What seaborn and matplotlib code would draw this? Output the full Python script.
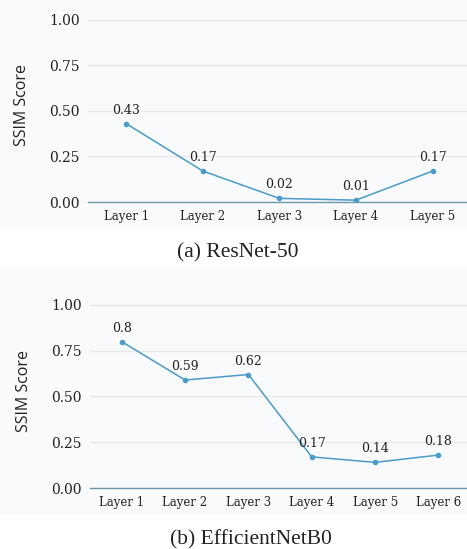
import matplotlib
matplotlib.use("Agg")
import matplotlib.pyplot as plt
import seaborn as sns
import pandas as pd
from matplotlib.patches import Rectangle

resnet_layers = ["Layer 1", "Layer 2", "Layer 3", "Layer 4", "Layer 5"]
resnet_ssim = [0.43, 0.17, 0.02, 0.01, 0.17]

effnet_layers = ["Layer 1", "Layer 2", "Layer 3", "Layer 4", "Layer 5", "Layer 6"]
effnet_ssim = [0.8, 0.59, 0.62, 0.17, 0.14, 0.18]

y_ticks = [0.0, 0.25, 0.5, 0.75, 1.0]
captions = ["(a) ResNet-50", "(b) EfficientNetB0"]

sns.set_style("whitegrid")

W, H = 467, 549
fig = plt.figure(figsize=(W / 100, H / 100), dpi=100)
fig.patch.set_facecolor("white")

line_color = "#4a9bc8"
bg = "#f9fafc"

# light panel backgrounds (pixel boxes: top y0, bottom y1)
for y0, y1 in [(0, 229), (267, 515)]:
    fig.patches.append(Rectangle((0, 1 - y1 / H), 1, (y1 - y0) / H,
                                 transform=fig.transFigure, facecolor=bg,
                                 edgecolor="none", zorder=-5))


def panel(rect, layers, vals, xmax):
    l, t, r, b = rect
    ax = fig.add_axes([l / W, 1 - b / H, (r - l) / W, (b - t) / H])
    ax.set_facecolor(bg)
    df = pd.DataFrame({"layer": layers, "ssim": vals})
    sns.lineplot(data=df, x="layer", y="ssim", ax=ax, color=line_color,
                 marker="o", markersize=4, markeredgewidth=0, linewidth=1.1)
    for i, v in enumerate(vals):
        ax.annotate(f"{v:g}", (i, v), xytext=(0, 5), textcoords="offset points",
                    ha="center", va="bottom", fontsize=9, family="DejaVu Serif",
                    color="#222222")
    ax.set_ylim(0, 1.06)
    ax.set_xlim(-0.5, xmax)
    ax.set_yticks(y_ticks)
    ax.set_yticklabels([f"{t:.2f}" for t in y_ticks], fontsize=10, color="#222222")
    ax.set_xticks(range(len(layers)))
    ax.set_xticklabels(layers, fontsize=8.5, color="#222222")
    for lab in ax.get_xticklabels() + ax.get_yticklabels():
        lab.set_fontfamily("DejaVu Serif")
    ax.grid(axis="x", visible=False)
    ax.grid(axis="y", color="#e8e8ea", linewidth=0.9)
    for s in ["top", "right", "left"]:
        ax.spines[s].set_visible(False)
    ax.spines["bottom"].set_color("#6a98aa")
    ax.spines["bottom"].set_linewidth(1.0)
    ax.tick_params(axis="both", length=0, pad=6)
    ax.set_xlabel("")
    ax.set_ylabel("SSIM Score", family="Open Sans", fontsize=11.5, color="#222222",
                  labelpad=14)
    return ax


panel((88, 9, 467, 202), resnet_layers, resnet_ssim, 4.45)
panel((90, 294, 467, 488), effnet_layers, effnet_ssim, 5.45)

fig.text(238 / W, 1 - 253 / H, captions[0], ha="center", va="center",
         family="Liberation Serif", fontsize=15.5, color="#222222")
fig.text(251 / W, 1 - 540 / H, captions[1], ha="center", va="center",
         family="Liberation Serif", fontsize=15.5, color="#222222")

fig.savefig("out.png", dpi=100)
